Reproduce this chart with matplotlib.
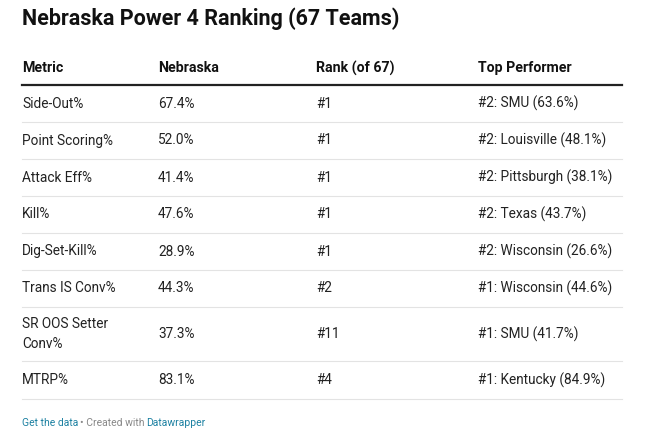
import matplotlib.pyplot as plt

title = "Nebraska Power 4 Ranking (67 Teams)"
columns = ["Metric", "Nebraska", "Rank (of 67)", "Top Performer"]
metrics = ["Side-Out%", "Point Scoring%", "Attack Eff%", "Kill%", "Dig-Set-Kill%",
           "Trans IS Conv%", "SR OOS Setter\nConv%", "MTRP%"]
nebraska = ["67.4%", "52.0%", "41.4%", "47.6%", "28.9%", "44.3%", "37.3%", "83.1%"]
ranks = ["#1", "#1", "#1", "#1", "#1", "#2", "#11", "#4"]
top = ["#2: SMU (63.6%)", "#2: Louisville (48.1%)", "#2: Pittsburgh (38.1%)",
       "#2: Texas (43.7%)", "#2: Wisconsin (26.6%)", "#1: Wisconsin (44.6%)",
       "#1: SMU (41.7%)", "#1: Kentucky (84.9%)"]

plt.rcParams['font.family'] = ['Roboto', 'DejaVu Sans']
fig = plt.figure(figsize=(6.6, 4.46), dpi=100)
ax = fig.add_axes([0, 0, 1, 1])
ax.set_xlim(0, 660)
ax.set_ylim(446, 0)
ax.axis('off')

ax.text(22, 19, title, fontsize=15.5, fontweight='bold', va='center', color='#111111')

col_x = [22, 158, 316, 478]
left, right = 22, 622
for x, c in zip(col_x, columns):
    ax.text(x, 68, c, fontsize=10.2, fontweight='bold', va='center', color='#111111')
ax.plot([left, right], [85, 85], color='#222222', lw=1.6)

row_h = [37, 37, 37, 37, 37, 37, 54, 38]
y = 85
for i, h in enumerate(row_h):
    yc = y + h / 2
    vals = [metrics[i], nebraska[i], ranks[i], top[i]]
    for x, v in zip(col_x, vals):
        ax.text(x, yc, v, fontsize=9.8, va='center', color='#222222', linespacing=1.5)
    y += h
    ax.plot([left, right], [y, y], color='#e3e3e3', lw=0.8)

ax.text(22, 423, "Get the data", fontsize=7.5, va='center', color='#1d81a2')
ax.text(80, 423, "• Created with", fontsize=7.5, va='center', color='#888888')
ax.text(146, 423, "Datawrapper", fontsize=7.5, va='center', color='#1d81a2')

fig.savefig("out.png", dpi=100, facecolor='white')
